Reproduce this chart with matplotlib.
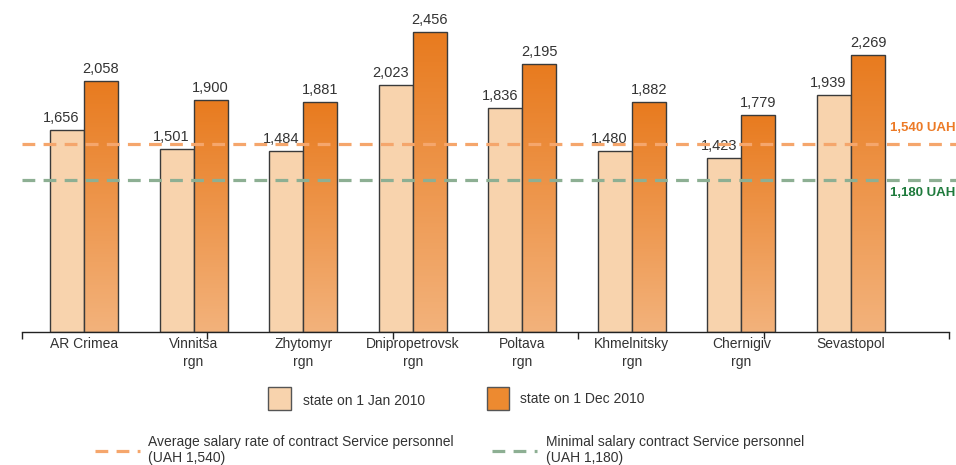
import matplotlib
matplotlib.use("Agg")
import matplotlib.pyplot as plt
import numpy as np
from matplotlib import font_manager
from matplotlib.colors import LinearSegmentedColormap
from matplotlib.patches import Rectangle
from matplotlib.lines import Line2D

regions = ["AR Crimea", "Vinnitsa\nrgn", "Zhytomyr\nrgn", "Dnipropetrovsk\nrgn",
           "Poltava\nrgn", "Khmelnitsky\nrgn", "Chernigiv\nrgn", "Sevastopol"]
jan_2010 = [1656, 1501, 1484, 2023, 1836, 1480, 1423, 1939]
dec_2010 = [2058, 1900, 1881, 2456, 2195, 1882, 1779, 2269]
avg_rate = 1540
min_rate_drawn = 1245   # where the green line sits in the picture
min_rate = 1180

names = {f.name for f in font_manager.fontManager.ttflist}
font = "Liberation Sans Narrow" if "Liberation Sans Narrow" in names else "Liberation Sans"
plt.rcParams["font.family"] = [font, "DejaVu Sans"]

W, H = 956, 465
fig = plt.figure(figsize=(W / 100, H / 100), dpi=100)

def fx(px):
    return px / W

def fy(py):
    return 1 - py / H

# axes: baseline at y=332 px, x from 22 to 949 px
ytop = 2600
ax = fig.add_axes([fx(22), fy(332), fx(949) - fx(22), (332 - 14.5) / H])

text_col = "#333333"
light_col = "#F8D3AD"
edge_col = "#3a3a3a"
grad = LinearSegmentedColormap.from_list("g", ["#F3B27B", "#E87B1F"])
w = 0.31
x = np.arange(len(regions))

for i in x:
    ax.bar(i - w / 2, jan_2010[i], w, color=light_col, edgecolor=edge_col, linewidth=1.0, zorder=2)
    b2 = ax.bar(i + w / 2, dec_2010[i], w, color="none", edgecolor=edge_col, linewidth=1.0, zorder=3)
    img = ax.imshow(np.linspace(0, 1, 100).reshape(-1, 1), cmap=grad, origin="lower",
                    extent=[i, i + w, 0, dec_2010[i]], aspect="auto", zorder=2.5)
    img.set_clip_path(b2.patches[0])
    ax.text(i - w / 2 - 0.05, jan_2010[i] + 40, f"{jan_2010[i]:,}", ha="center", va="bottom",
            fontsize=10.5, color=text_col, zorder=4)
    ax.text(i + w / 2, dec_2010[i] + 40, f"{dec_2010[i]:,}", ha="center", va="bottom",
            fontsize=10.5, color=text_col, zorder=4)

ax.set_xlim(-0.566, 7.89)
ax.set_ylim(0, ytop)

dash = (0, (4, 2.6))
ax.axhline(avg_rate, xmin=0, xmax=1.01, color="#F5A66C", lw=2.3, ls=dash, zorder=5, clip_on=False)
ax.axhline(min_rate_drawn, xmin=0, xmax=1.01, color="#8DAF93", lw=2.3, ls=dash, zorder=5, clip_on=False)

for s in ["top", "right", "left"]:
    ax.spines[s].set_visible(False)
ax.spines["bottom"].set_color("#222222")
ax.spines["bottom"].set_linewidth(1.0)
ax.set_yticks([])

ax.set_xticks(-0.566 + 1.692 * np.arange(6))
ax.set_xticklabels([])
ax.tick_params(axis="x", length=5, width=1, color="#222222", direction="out")
for i, lab in enumerate(regions):
    ax.text(i, -40, lab, ha="center", va="top", fontsize=10, color=text_col,
            linespacing=1.35)

fig.text(fx(955), fy(128), "1,540 UAH", color="#EC7A26", fontsize=9.5,
         fontweight="bold", va="center", ha="right")
fig.text(fx(955), fy(193), f"{min_rate:,} UAH", color="#1E7A3C", fontsize=9.5,
         fontweight="bold", va="center", ha="right")

# legend
fig.patches.append(Rectangle((fx(268), fy(410)), fx(23), (410 - 387) / H, transform=fig.transFigure,
                             facecolor=light_col, edgecolor="#555555", lw=1))
fig.patches.append(Rectangle((fx(487), fy(410)), fx(22), (410 - 387) / H, transform=fig.transFigure,
                             facecolor="#ED8A30", edgecolor="#555555", lw=1))
fig.text(fx(303), fy(401), "state on 1 Jan 2010", fontsize=10, color=text_col, va="center")
fig.text(fx(520), fy(399), "state on 1 Dec 2010", fontsize=10, color=text_col, va="center")

fig.lines.append(Line2D([fx(95), fx(140)], [fy(451), fy(451)], transform=fig.transFigure,
                        color="#F5A66C", lw=2.3, ls=dash))
fig.lines.append(Line2D([fx(492), fx(537)], [fy(451), fy(451)], transform=fig.transFigure,
                        color="#8DAF93", lw=2.3, ls=dash))
fig.text(fx(148), fy(450), "Average salary rate of contract Service personnel\n(UAH 1,540)",
         fontsize=10, color=text_col, va="center", linespacing=1.1)
fig.text(fx(546), fy(450), f"Minimal salary contract Service personnel\n(UAH {min_rate:,})",
         fontsize=10, color=text_col, va="center", linespacing=1.1)

fig.savefig("out.png", dpi=100)
